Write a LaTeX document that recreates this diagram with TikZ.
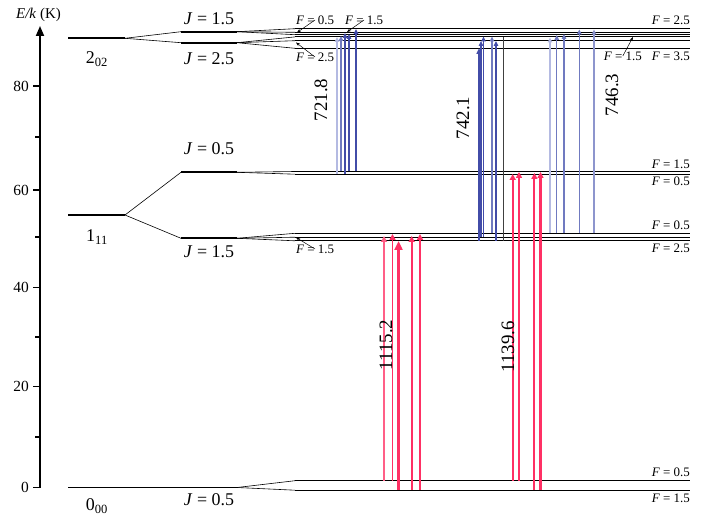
\documentclass[tikz,border=0pt]{standalone}
\usepackage{fontspec}
\setmainfont{Liberation Serif}
\usetikzlibrary{arrows.meta}
\definecolor{bluec}{RGB}{66,76,168}
\definecolor{bluem}{RGB}{112,122,192}
\definecolor{bluel}{RGB}{180,186,226}
\definecolor{redc}{RGB}{255,48,100}
\definecolor{redl}{RGB}{255,95,135}
\begin{document}
\begin{tikzpicture}[x=1bp,y=-1bp,
  lev/.style={line width=1.7bp},
  conn/.style={line width=0.6bp},
  flev/.style={line width=1.1bp},
  tickmark/.style={line width=1.5bp},
  ticklbl/.style={anchor=east,font=\fontsize{15.5}{15.5}\selectfont,inner sep=0pt},
  jlbl/.style={font=\fontsize{18}{18}\selectfont,inner sep=0pt},
  flbl/.style={font=\fontsize{13}{13}\selectfont,inner sep=0pt},
  frlbl/.style={flbl,anchor=east},
  nlbl/.style={font=\fontsize{19}{19}\selectfont,inner sep=0pt,rotate=90},
  fptr/.style={line width=0.5bp,-{Stealth[length=4bp,width=3bp]}},
  bar/.style={line width=1.2bp,-{Triangle[length=5bp,width=4.5bp]}},
  barthick/.style={line width=2.6bp,-{Triangle[length=6bp,width=5bp]}},
  rar/.style={line width=1.9bp,draw=redc,-{Triangle[length=6bp,width=6bp]}},
  rarthick/.style={line width=3.2bp,draw=redc,-{Triangle[length=9bp,width=8bp]}}
]
\useasboundingbox (0,0) rectangle (717,517);

% axis
\draw[line width=1.8bp,-{Triangle[length=10bp,width=8bp]}] (40,488) -- (40,26);
\node[font=\fontsize{15}{15}\selectfont,inner sep=0pt] (axl) at (38.5,15) {\textit{E/k} (K)};
\foreach \yy/\lab in {487.5/0,386.5/20,287.5/40,190/60,86/80}{
  \draw[tickmark] (33,\yy) -- (40.5,\yy);
  \node[ticklbl] at (29,\yy) {\lab};
}
\foreach \yy in {437,337,237,137}{
  \draw[tickmark] (35,\yy) -- (40.5,\yy);
}

% rotational levels
\coordinate (a0) at (68,38.3);  \coordinate (a1) at (125,38.3);
\coordinate (b0) at (68,215);   \coordinate (b1) at (125,215);
\coordinate (c0) at (68,487.5); \coordinate (c1) at (125,487.5);
\draw[lev] (a0) -- (a1);
\draw[lev] (b0) -- (b1);
\draw[lev] (c0) -- (c1);
\node[jlbl] at (97,59) {2\textsubscript{02}};
\node[jlbl] at (97,237) {1\textsubscript{11}};
\node[jlbl] at (97,506) {0\textsubscript{00}};

% J levels
\coordinate (ja0) at (181,31.7);  \coordinate (ja1) at (237,31.7);
\coordinate (jb0) at (181,42.7);  \coordinate (jb1) at (237,42.7);
\coordinate (jc0) at (181,172.3); \coordinate (jc1) at (237,172.3);
\coordinate (jd0) at (181,238.3); \coordinate (jd1) at (237,238.3);
\coordinate (je0) at (181,487.5); \coordinate (je1) at (237,487.5);
\foreach \j in {ja,jb,jc,jd,je}{\draw[lev] (\j0) -- (\j1);}
\draw[conn] (a1) -- (ja0);
\draw[conn] (a1) -- (jb0);
\draw[conn] (b1) -- (jc0);
\draw[conn] (b1) -- (jd0);
\draw[conn] (c1) -- (je0);
\node[jlbl] at (209,19) {\textit{J} = 1.5};
\node[jlbl] at (209,59) {\textit{J} = 2.5};
\node[jlbl] at (209,149) {\textit{J} = 0.5};
\node[jlbl] at (209,252) {\textit{J} = 1.5};
\node[jlbl] at (209,500) {\textit{J} = 0.5};

% F levels
\foreach \n/\yy/\j in {f1/28.7/ja,f2/32.3/ja,f3/34.7/ja,f4/36.9/jb,f5/40.7/jb,f6/48.3/jb,
                       g1/171.5/jc,g2/174.2/jc,
                       h1/233.3/jd,h2/237.2/jd,h3/240.8/jd,
                       k1/480.7/je,k2/490.2/je}{
  \coordinate (\n s) at (295,\yy);
  \coordinate (\n e) at (690,\yy);
  \draw[conn] (\j1) -- (\n s);
  \draw[flev] (\n s) -- (\n e);
}

% F labels (right)
\node[frlbl] at (690,20) {\textit{F} = 2.5};
\node[frlbl] at (690,56) {\textit{F} = 3.5};
\node[frlbl] (fr15) at (642,56) {\textit{F} = 1.5};
\node[frlbl] at (690,164) {\textit{F} = 1.5};
\node[frlbl] at (690,181.5) {\textit{F} = 0.5};
\node[frlbl] at (690,225) {\textit{F} = 0.5};
\node[frlbl] at (690,248) {\textit{F} = 2.5};
\node[frlbl] at (690,472) {\textit{F} = 0.5};
\node[frlbl] at (690,498) {\textit{F} = 1.5};
% F labels (left) with pointers
\node[flbl] (fl05) at (315,20) {\textit{F} = 0.5};
\node[flbl] (fl15) at (364,20) {\textit{F} = 1.5};
\node[flbl] (fl25) at (315,57) {\textit{F} = 2.5};
\node[flbl] (fm15) at (315,249) {\textit{F} = 1.5};
\draw[fptr] (fl05.center) -- (297,32.5);
\draw[fptr] (fl15.center) -- (347,32);
\draw[fptr] (fl25.center) -- (296,42.5);
\draw[fptr] (fm15.center) -- (296,237.5);
\draw[fptr] (fr15.center) -- (633,37);

% blue transitions 721.8
\draw[bar,draw=bluel] (337,174.2) -- (337,37);
\draw[bar,draw=bluem] (341,171.5) -- (341,36);
\draw[bar,draw=bluec] (345,174.2) -- (345,33);
\draw[bar,draw=bluec] (349,171.5) -- (349,34);
\draw[bar,draw=bluec] (356,171.5) -- (356,29);
\node[nlbl] at (321,100) {721.8};

% blue transitions 742.1
\draw[barthick,draw=bluec] (479,240.8) -- (479,48);
\draw[bar,draw=bluec] (481,237.2) -- (481,41);
\draw[bar,draw=bluec] (483.5,237.2) -- (483.5,36.5);
\draw[bar,draw=bluem] (492,233.3) -- (492,36.5);
\draw[bar,draw=bluec] (496,240.8) -- (496,41);
\draw[line width=0.7bp,draw=black!75] (503.3,240.8) -- (503.3,36.9);
\node[nlbl] at (463,118) {742.1};

% blue transitions 746.3
\draw[bar,draw=bluel] (550,233.3) -- (550,37.5);
\draw[bar,draw=bluem] (556.7,233.3) -- (556.7,35);
\draw[bar,draw=bluem] (564,233.3) -- (564,34);
\draw[bar,draw=bluem] (579.3,233.3) -- (579.3,29.5);
\draw[bar,draw=bluem!80!white] (594,233.3) -- (594,29.5);
\node[nlbl] at (612,95) {746.3};

% red transitions 1115.2
\draw[rar,draw=redl,line width=2.3bp] (384,480.7) -- (384,236);
\draw[rar] (392.5,480.7) -- (392.5,234);
\draw[rarthick] (398.5,490.2) -- (398.5,241);
\draw[rar] (411.7,490.2) -- (411.7,236);
\draw[rar] (420,490.2) -- (420,234);
\node[nlbl] at (386,345) {1115.2};

% red transitions 1139.6
\draw[rar] (512.7,480.7) -- (512.7,174);
\draw[rar,line width=2.2bp] (519,480.7) -- (519,172);
\draw[rar] (534.4,490.2) -- (534.4,173);
\draw[rar,line width=2.6bp] (540.5,490.2) -- (540.5,172);
\node[nlbl] at (508,347) {1139.6};
\end{tikzpicture}
\end{document}
